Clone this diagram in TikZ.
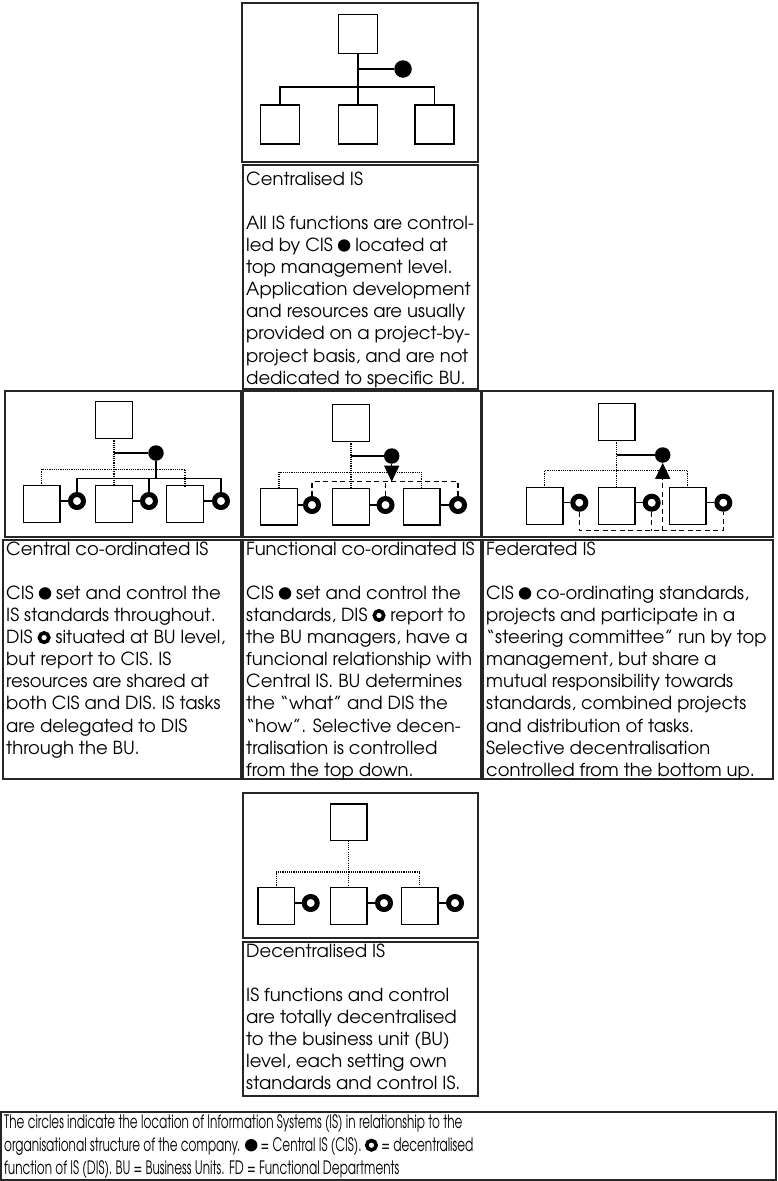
\documentclass[tikz,border=0pt]{standalone}
\usepackage{fontspec}
\setmainfont{TeX Gyre Adventor}
\newfontfamily\condfont{TeX Gyre Adventor}[FakeStretch=0.65]
\usetikzlibrary{arrows.meta,calc}
\newcommand\cisdot{\tikz[baseline=-6pt]\fill (0,0) circle (6.2pt);}
\newcommand\disring{\tikz[baseline=-6pt]\draw[line width=3.6pt] (0,0) circle (4.7pt);}
\newcommand\topstrut{\rule{0pt}{14pt}}
\begin{document}
\begin{tikzpicture}[x=1pt,y=-1pt,
  frame/.style={draw=black!85, line width=1.3pt},
  sq/.style={draw, line width=1.3pt, minimum size=#1, inner sep=0pt, outer sep=0pt},
  sq/.default=36.5pt,
  ln/.style={line width=1.3pt},
  dots/.style={line width=1.1pt, dash pattern=on 1.1pt off 1.1pt},
  dsh/.style={line width=1.3pt, dash pattern=on 5pt off 3.5pt},
  cis/.style={circle, fill, inner sep=0pt, minimum size=#1},
  cis/.default=15.5pt,
  dis/.style={circle, draw, line width=5pt, inner sep=0pt, minimum size=13pt},
  txt/.style={anchor=north west, inner sep=0pt, align=left, font=\fontsize{18}{22.1}\selectfont},
  btxt/.style={anchor=north west, inner sep=0pt, align=left, font=\condfont\fontsize{18.5}{23}\selectfont},
  tip/.style={-{Triangle[width=15pt,length=16pt]}}
]
\useasboundingbox (0,0) rectangle (777,1181);

% ---------- Centralised diagram ----------
\draw[frame] (242,3) rectangle (478,162);
\node[sq=39pt] (a0) at (358,34) {};
\node[sq=39pt] (a1) at (280,124.5) {};
\node[sq=39pt] (a2) at (358,124.5) {};
\node[sq=39pt] (a3) at (434.5,124.5) {};
\node[cis=17.5pt] (ac) at (403,69) {};
\coordinate (abus) at (358,87);
\draw[ln] (a0) -- (a2);
\draw[ln] (a0.south |- ac) -- (ac);
\draw[ln] (a1.north) |- (abus) -| (a3.north);

% ---------- Central co-ordinated diagram ----------
\draw[frame] (5,391) rectangle (241,537);
\node[sq] (b0) at (114,420) {};
\node[sq] (b1) at (41.7,504) {};
\node[sq] (b2) at (114,504) {};
\node[sq] (b3) at (185,504) {};
\node[cis] (bc) at (156,453) {};
\coordinate (bdot) at (114,469.3);
\coordinate (bsol) at (156,478.3);
\draw[dots] (b0) -- (b2);
\draw[dots] (b1.north) |- (bdot) -| (b3.north);
\draw[ln] (b0.south |- bc) -- (bc);
\draw[ln] (bc) -- (bsol);
\node[dis] (br1) at (77,501) {};
\node[dis] (br2) at (149,501) {};
\node[dis] (br3) at (221,501) {};
\draw[ln] (br1) |- (bsol) -| (br3);
\draw[ln] (br2) -- (br2 |- bsol);
\draw[ln] (b1.east |- br1) -- (br1);
\draw[ln] (b2.east |- br2) -- (br2);
\draw[ln] (b3.east |- br3) -- (br3);

% ---------- Functional co-ordinated diagram ----------
\draw[frame] (243,391) rectangle (481,537);
\node[sq] (c0) at (351,423) {};
\node[sq] (c1) at (279,506.7) {};
\node[sq] (c2) at (351,506.7) {};
\node[sq] (c3) at (421.7,506.7) {};
\node[cis] (cc) at (391.7,456) {};
\coordinate (cdot) at (351,472.3);
\coordinate (cdsh) at (391.7,481.7);
\draw[dots] (c0) -- (c2);
\draw[dots] (c1.north) |- (cdot) -| (c3.north);
\draw[ln] (c0.south |- cc) -- (cc);
\node[dis] (cr1) at (312,505) {};
\node[dis] (cr2) at (385.5,505) {};
\node[dis] (cr3) at (458,505) {};
\draw[dsh] (cr1) |- (cdsh) -| (cr3);
\draw[dsh] (cr2) -- (cr2 |- cdsh);
\draw[ln, tip] (cc) -- (cdsh);
\draw[ln] (c1.east |- cr1) -- (cr1);
\draw[ln] (c2.east |- cr2) -- (cr2);
\draw[ln] (c3.east |- cr3) -- (cr3);

% ---------- Federated diagram ----------
\draw[frame] (482,391) rectangle (773,537);
\node[sq] (d0) at (616.7,422) {};
\node[sq] (d1) at (544.7,506) {};
\node[sq] (d2) at (616.7,506) {};
\node[sq] (d3) at (687.7,506) {};
\node[cis] (dc) at (662.7,455) {};
\coordinate (ddot) at (616.7,470.7);
\coordinate (ddsh) at (662.7,530.7);
\draw[dots] (d0) -- (d2);
\draw[dots] (d1.north) |- (ddot) -| (d3.north);
\draw[ln] (d0.south |- dc) -- (dc);
\node[dis] (dr1) at (579.3,502.7) {};
\node[dis] (dr2) at (651.7,502.7) {};
\node[dis] (dr3) at (723.3,502.7) {};
\draw[dsh] (dr1) |- (ddsh) -| (dr3);
\draw[dsh] (dr2) -- (dr2 |- ddsh);
\draw[dsh, tip] (ddsh) -- (dc);
\draw[ln] (d1.east |- dr1) -- (dr1);
\draw[ln] (d2.east |- dr2) -- (dr2);
\draw[ln] (d3.east |- dr3) -- (dr3);

% ---------- Decentralised diagram ----------
\draw[frame] (243,793) rectangle (478,938);
\node[sq] (e0) at (348.7,822.3) {};
\node[sq] (e1) at (276.2,906) {};
\node[sq] (e2) at (348.7,906) {};
\node[sq] (e3) at (419.7,906) {};
\coordinate (edot) at (348.7,872);
\draw[dots] (e0) -- (e2);
\draw[dots] (e1.north) |- (edot) -| (e3.north);
\node[dis] (er1) at (310.7,903) {};
\node[dis] (er2) at (384,903) {};
\node[dis] (er3) at (455,903) {};
\draw[ln] (e1.east |- er1) -- (er1);
\draw[ln] (e2.east |- er2) -- (er2);
\draw[ln] (e3.east |- er3) -- (er3);

% ---------- Text boxes ----------
\draw[frame] (243,165) rectangle (478,389);
\node[txt] (t1) at (246,171) {\topstrut Centralised IS\\[22.1pt]
All IS functions are control-\\
led by CIS \cisdot{} located at\\
top management level.\\
Application development\\
and resources are usually\\
provided on a project-by-\\
project basis, and are not\\
dedicated to specific BU.};

\draw[frame] (3,540) rectangle (241,779);
\node[txt] (t2) at (6,541) {\topstrut Central co-ordinated IS\\[22.1pt]
CIS \cisdot{} set and control the\\
IS standards throughout.\\
DIS \disring{} situated at BU level,\\
but report to CIS. IS\\
resources are shared at\\
both CIS and DIS. IS tasks\\
are delegated to DIS\\
through the BU.};

\draw[frame] (243,540) rectangle (481,779);
\node[txt] (t3) at (246,541) {\topstrut Functional co-ordinated IS\\[22.1pt]
CIS \cisdot{} set and control the\\
standards, DIS \disring{} report to\\
the BU managers, have a\\
funcional relationship with\\
Central IS. BU determines\\
the “what” and DIS the\\
“how”. Selective decen-\\
tralisation is controlled\\
from the top down.};

\draw[frame] (483,540) rectangle (773,779);
\node[txt] (t4) at (486,541) {\topstrut Federated IS\\[22.1pt]
CIS \cisdot{} co-ordinating standards,\\
projects and participate in a\\
“steering committee” run by top\\
management, but share a\\
mutual responsibility towards\\
standards, combined projects\\
and distribution of tasks.\\
Selective decentralisation\\
controlled from the bottom up.};

\draw[frame] (243,942) rectangle (478,1096);
\node[txt] (t5) at (246,943) {\topstrut Decentralised IS\\[22.1pt]
IS functions and control\\
are totally decentralised\\
to the business unit (BU)\\
level, each setting own\\
standards and control IS.};

\draw[frame] (1,1112) rectangle (776,1180);
\node[btxt] (t6) at (4,1114) {\topstrut The circles indicate the location of Information Systems (IS) in relationship to the\\
organisational structure of the company. \cisdot{} = Central IS (CIS). \disring{} = decentralised\\
function of IS (DIS). BU = Business Units. FD = Functional Departments};
\end{tikzpicture}
\end{document}
